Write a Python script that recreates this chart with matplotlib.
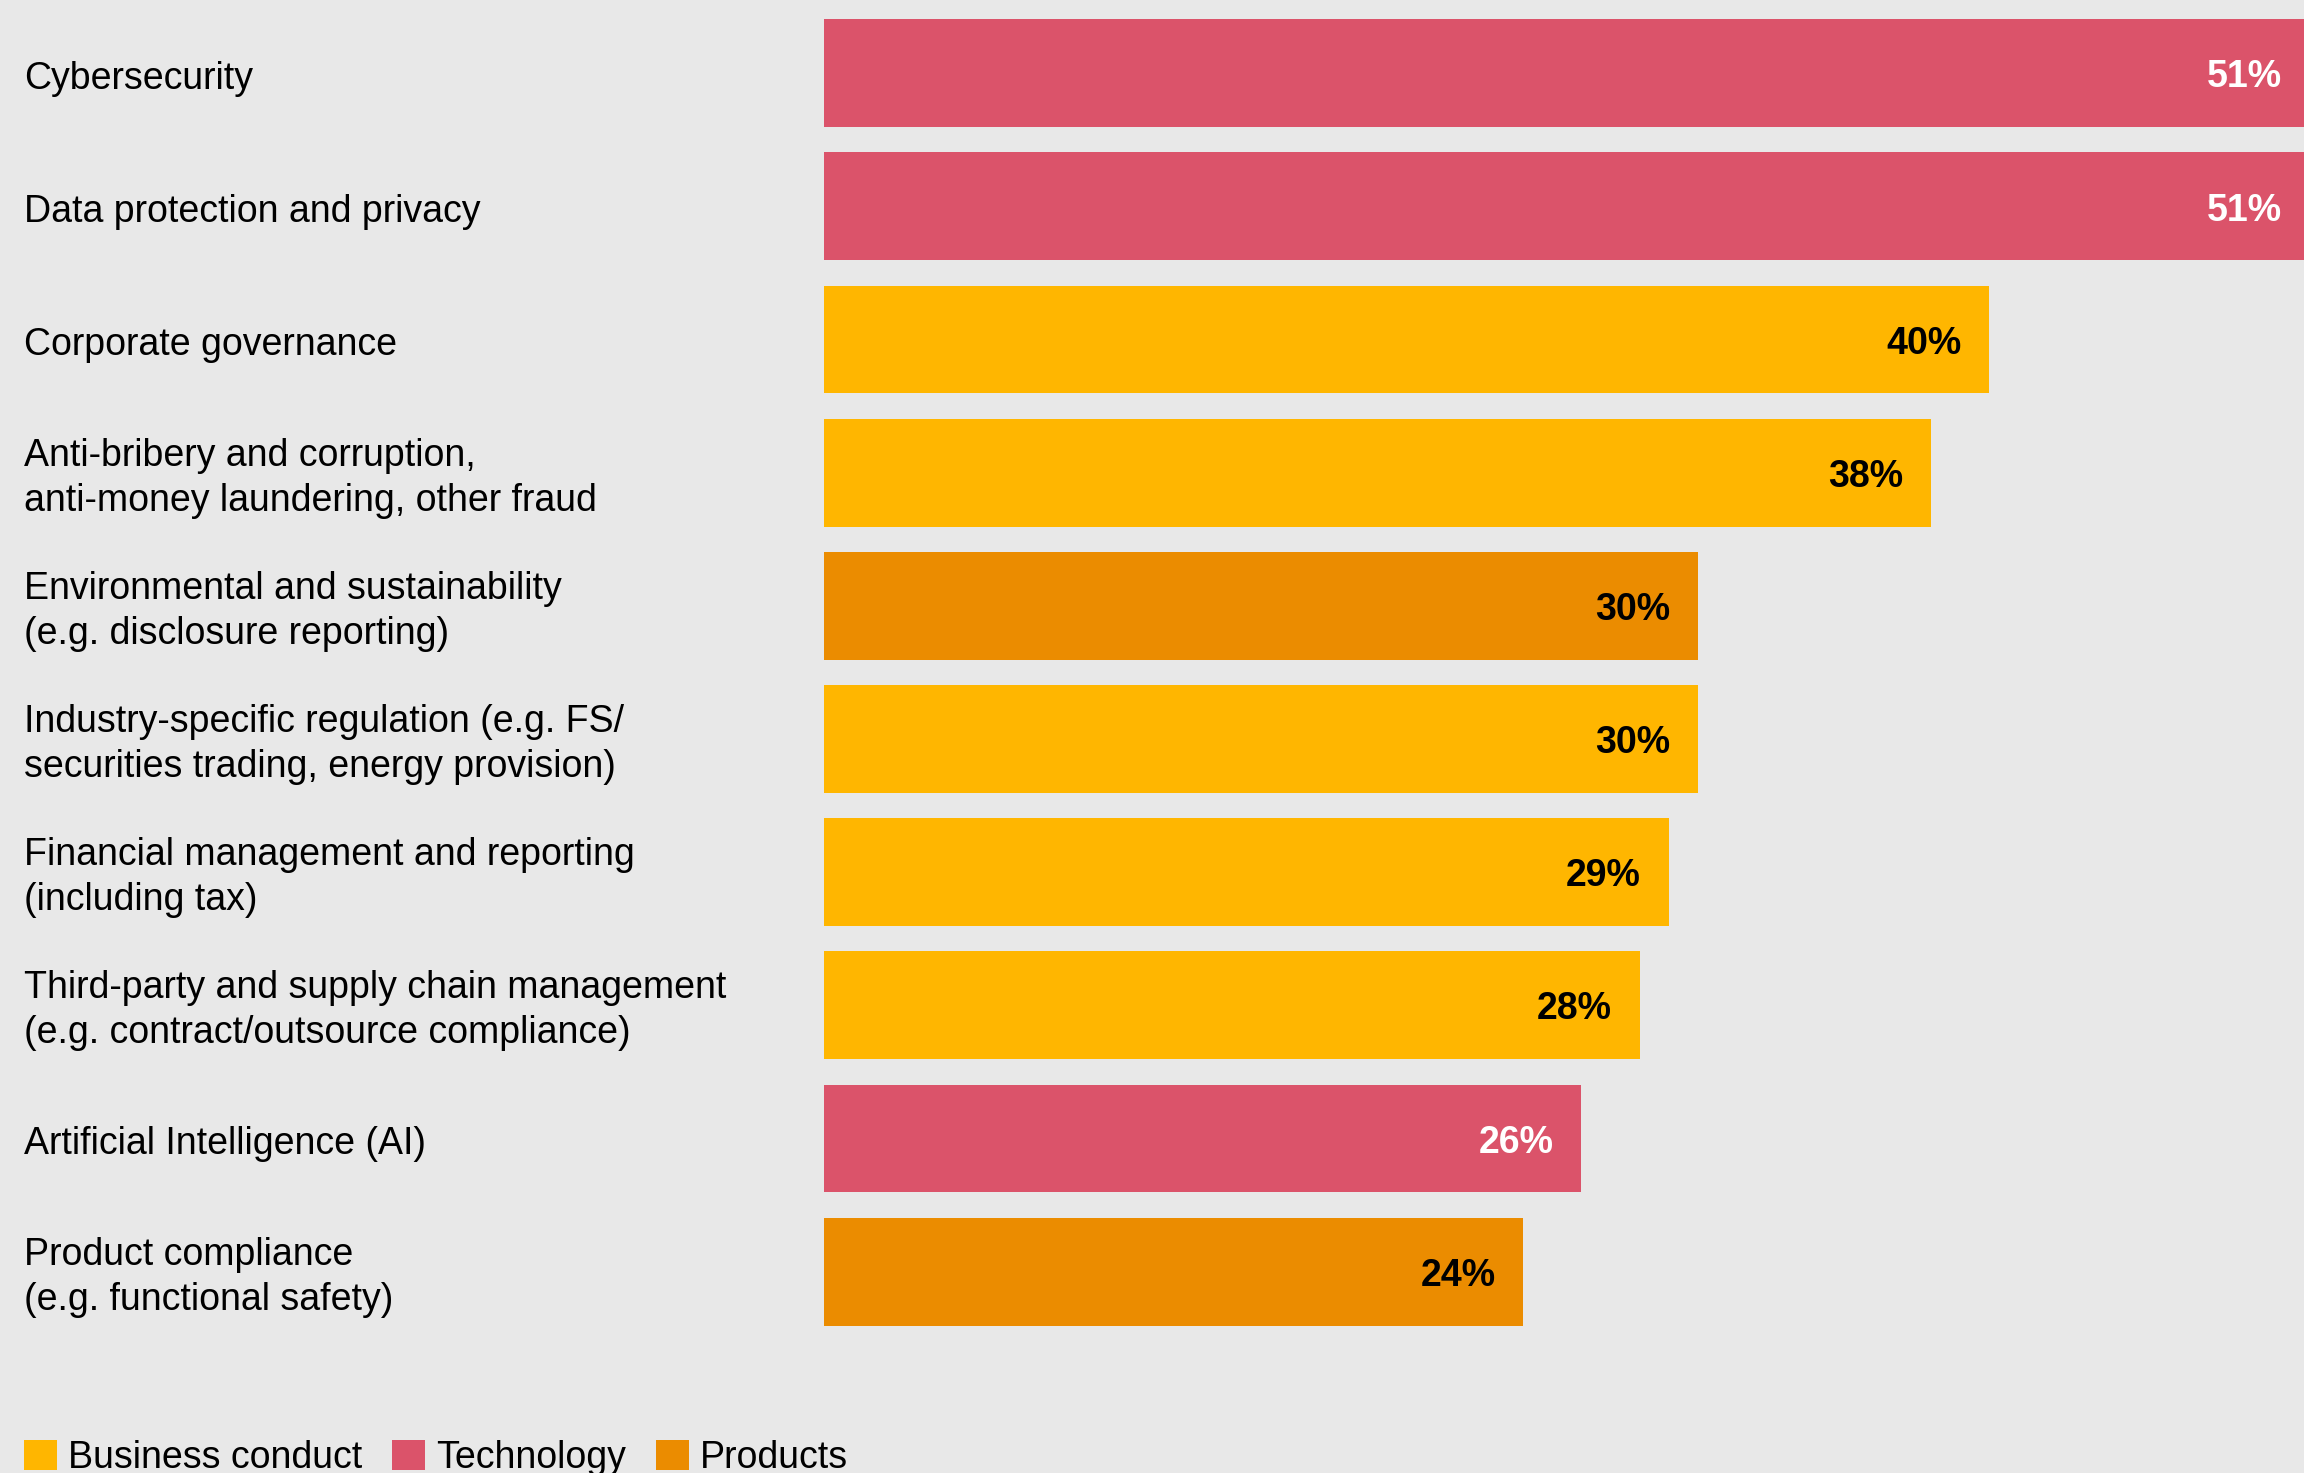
import matplotlib

matplotlib.use("Agg")
import matplotlib.pyplot as plt  # noqa: E402
from matplotlib.patches import Patch  # noqa: E402
from matplotlib.transforms import blended_transform_factory  # noqa: E402

labels = [
    "Cybersecurity",
    "Data protection and privacy",
    "Corporate governance",
    "Anti-bribery and corruption,\nanti-money laundering, other fraud",
    "Environmental and sustainability\n(e.g. disclosure reporting)",
    "Industry-specific regulation (e.g. FS/\nsecurities trading, energy provision)",
    "Financial management and reporting\n(including tax)",
    "Third-party and supply chain management\n(e.g. contract/outsource compliance)",
    "Artificial Intelligence (AI)",
    "Product compliance\n(e.g. functional safety)",
]
values = [51, 51, 40, 38, 30, 30, 29, 28, 26, 24]
groups = ["Technology", "Technology", "Business conduct", "Business conduct", "Products",
          "Business conduct", "Business conduct", "Business conduct", "Technology", "Products"]

colors = {"Business conduct": "#FFB600", "Technology": "#DB536A", "Products": "#EB8C00"}
text_colors = {"Business conduct": "black", "Technology": "white", "Products": "black"}
bg = "#E8E8E8"

plt.rcParams["font.family"] = ["Liberation Sans", "DejaVu Sans"]

fig = plt.figure(figsize=(23.04, 14.73), dpi=100, facecolor=bg)
ax = fig.add_axes([824 / 2304, 0.0915, 1 - 824 / 2304, 0.904])
ax.set_facecolor(bg)

y = list(range(len(values)))
ax.barh(y, values, height=0.81, color=[colors[g] for g in groups])
ax.set_xlim(0, 50.8)
ax.set_ylim(len(values) - 0.5, -0.5)
ax.axis("off")

for i, (v, g) in enumerate(zip(values, groups)):
    ax.annotate(f"{v}%", (v, i), xytext=(-20, -3), textcoords="offset points",
                ha="right", va="center", fontsize=27, fontweight="bold",
                color=text_colors[g], annotation_clip=False)

tr = blended_transform_factory(fig.transFigure, ax.transData)
for i, lab in enumerate(labels):
    ax.annotate(lab, (24 / 2304, i), xycoords=tr, xytext=(0, -4), textcoords="offset points",
                ha="left", va="center", fontsize=27, linespacing=1.32, color="black",
                annotation_clip=False)

handles = [Patch(facecolor=colors[k], edgecolor="none", label=k)
           for k in ["Business conduct", "Technology", "Products"]]
fig.legend(handles=handles, loc="lower left", bbox_to_anchor=(0.004, -0.012),
           ncol=3, frameon=False, fontsize=27, handlelength=0.87, handleheight=0.87,
           handletextpad=0.3, columnspacing=0.8, borderaxespad=0)

fig.savefig("out.png", dpi=100, facecolor=bg)
